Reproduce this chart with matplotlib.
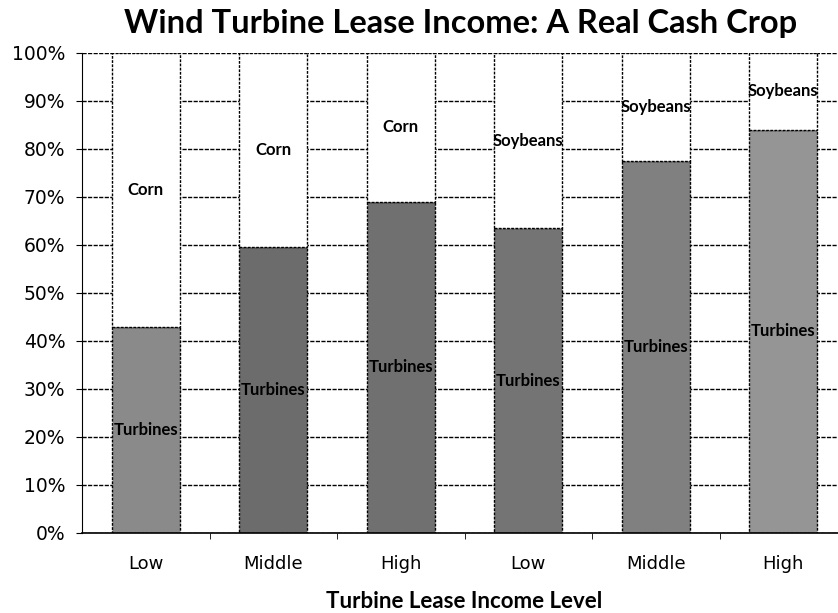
import numpy as np
import matplotlib.pyplot as plt
from matplotlib.ticker import PercentFormatter, FixedLocator

# данні
categories = ["Low", "Middle", "High", "Low", "Middle", "High"]
turbines = [43, 59.5, 69, 63.5, 77.6, 84]
crop_names = ["Corn", "Corn", "Corn", "Soybeans", "Soybeans", "Soybeans"]
crop = [100 - t for t in turbines]
bar_grays = ["#8a8a8a", "#6c6c6c", "#707070", "#747474", "#808080", "#959595"]

fig = plt.figure(figsize=(8.38, 6.13), dpi=100)
ax = fig.add_axes([82 / 838, 80 / 613, 765 / 838, 480 / 613])

x = np.arange(len(categories))
b1 = ax.bar(x, turbines, width=0.53, color=bar_grays, edgecolor="black",
            linewidth=1.0, linestyle=(0, (2, 1)), zorder=2)
b2 = ax.bar(x, crop, bottom=turbines, width=0.53, color="white", edgecolor="black",
            linewidth=1.0, linestyle=(0, (2, 1)), zorder=2)

lab_font = dict(fontfamily="Lato", fontweight="bold", fontsize=12, color="black")
ax.bar_label(b1, labels=["Turbines"] * len(x), label_type="center", **lab_font)
ax.bar_label(b2, labels=crop_names, label_type="center", **lab_font)

ax.set_xlim(-0.5, len(x) - 0.5)
ax.set_ylim(0, 100)
ax.set_yticks(np.arange(0, 101, 10))
ax.yaxis.set_major_formatter(PercentFormatter(decimals=0))
ax.set_xticks(x)
ax.set_xticklabels(categories)
ax.xaxis.set_minor_locator(FixedLocator(np.arange(0.5, len(x) - 0.5, 1)))
ax.tick_params(axis="x", which="major", length=0, pad=16, labelsize=13)
ax.tick_params(axis="x", which="minor", length=4, direction="out")
ax.tick_params(axis="y", length=4, labelsize=13.5, pad=8)

ax.grid(axis="y", color="black", linewidth=1.0, linestyle=(0, (3, 1)))
ax.set_axisbelow(True)
for s in ["top", "right"]:
    ax.spines[s].set_visible(False)
ax.spines["left"].set_linestyle((0, (2, 1)))
ax.spines["bottom"].set_linewidth(1.2)

ax.set_xlabel("Turbine Lease Income Level", fontfamily="Lato", fontweight="bold",
              fontsize=16, labelpad=13)
fig.text(0.55, 1 - 24 / 613, "Wind Turbine Lease Income: A Real Cash Crop",
         fontfamily="Lato", fontweight="bold", fontsize=23.5, ha="center", va="center")

fig.savefig("out.png", dpi=100)
